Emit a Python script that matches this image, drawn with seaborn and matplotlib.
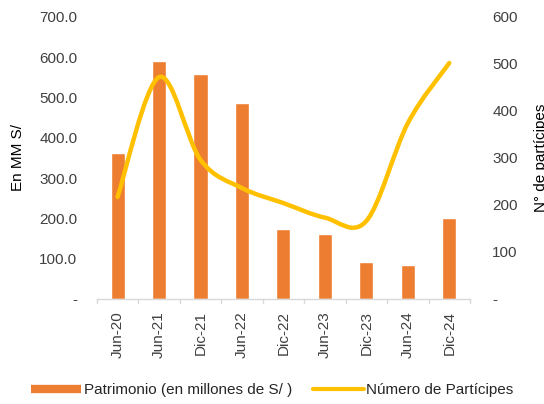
import numpy as np
import pandas as pd
import matplotlib
matplotlib.use("Agg")
import matplotlib.pyplot as plt
import seaborn as sns
from matplotlib.path import Path
from matplotlib.patches import PathPatch
from matplotlib.lines import Line2D
from matplotlib.ticker import FuncFormatter, FixedLocator

sns.set_theme(style="white")
plt.rcParams['font.family'] = ['Liberation Sans', 'DejaVu Sans']

# Data
periodos = ['Jun-20', 'Jun-21', 'Dic-21', 'Jun-22', 'Dic-22', 'Jun-23', 'Dic-23', 'Jun-24', 'Dic-24']
patrimonio = [362, 590, 558, 486, 174, 161, 92, 84, 201]
participes = [217, 472, 296, 236, 204, 173, 166, 374, 502]

naranja = '#ED7D31'
amarillo = '#FFC000'
gris_texto = '#404040'

df = pd.DataFrame({'Periodo': periodos, 'Patrimonio': patrimonio, 'Participes': participes})

fig = plt.figure(figsize=(5.44, 4.04), dpi=100)
ax = fig.add_axes([0.178, 0.26, 0.686, 0.698])

sns.barplot(data=df, x='Periodo', y='Patrimonio', color=naranja, width=0.34,
            saturation=1, ax=ax)
ax.set_xlim(-0.5, len(periodos) - 0.5)
ax.set_ylim(0, 700)
ax.yaxis.set_major_locator(FixedLocator(np.arange(0, 701, 100)))
ax.yaxis.set_major_formatter(FuncFormatter(lambda v, p: '-' if v == 0 else f'{v:.1f}'))
ax.set_xlabel('')
ax.set_ylabel('En MM S/', fontsize=11, color='black', labelpad=10)
ax.tick_params(axis='y', length=0, labelsize=11, labelcolor=gris_texto, pad=14)
ax.tick_params(axis='x', labelsize=11, labelcolor=gris_texto, rotation=90,
               length=0, pad=9)
for s in ['top', 'left', 'right']:
    ax.spines[s].set_visible(False)
ax.spines['bottom'].set_color('#D9D9D9')
ax.spines['bottom'].set_linewidth(1)

# category boundary ticks on x-axis
for b in np.arange(-0.5, len(periodos), 1.0):
    ax.plot([b, b], [0, -0.015], transform=ax.get_xaxis_transform(),
            color='#D9D9D9', lw=1, clip_on=False)

# secondary axis with smoothed line (Excel-style bezier smoothing)
ax2 = ax.twinx()
ax2.set_ylim(0, 600)
ax2.yaxis.set_major_locator(FixedLocator(np.arange(0, 601, 100)))
ax2.yaxis.set_major_formatter(FuncFormatter(lambda v, p: '-' if v == 0 else f'{v:.0f}'))
ax2.tick_params(axis='y', length=0, labelsize=11, labelcolor=gris_texto, pad=16)
ax2.set_ylabel('N° de partícipes', fontsize=11, color='black', labelpad=12)
for s in ['top', 'left', 'right', 'bottom']:
    ax2.spines[s].set_visible(False)

xs = np.arange(len(participes), dtype=float)
ys = np.array(participes, dtype=float)
verts = [(xs[0], ys[0])]
codes = [Path.MOVETO]
n = len(xs)
for i in range(n - 1):
    p0 = (xs[max(i - 1, 0)], ys[max(i - 1, 0)])
    p1 = (xs[i], ys[i])
    p2 = (xs[i + 1], ys[i + 1])
    p3 = (xs[min(i + 2, n - 1)], ys[min(i + 2, n - 1)])
    c1 = (p1[0] + (p2[0] - p0[0]) / 6, p1[1] + (p2[1] - p0[1]) / 6)
    c2 = (p2[0] - (p3[0] - p1[0]) / 6, p2[1] - (p3[1] - p1[1]) / 6)
    verts += [c1, c2, p2]
    codes += [Path.CURVE4] * 3
ax2.add_patch(PathPatch(Path(verts, codes), facecolor='none', edgecolor=amarillo,
                        lw=3.2, capstyle='round', joinstyle='round'))

handles = [Line2D([], [], color=naranja, lw=6, solid_capstyle='butt'),
           Line2D([], [], color=amarillo, lw=3, solid_capstyle='round')]
fig.legend(handles, ['Patrimonio (en millones de S/ )', 'Número de Partícipes'],
           loc='center', bbox_to_anchor=(0.5, 0.035), ncol=2, frameon=False,
           fontsize=11, handlelength=3.3, handletextpad=0.15, columnspacing=1.4,
           labelcolor='#262626')

fig.savefig('out.png', dpi=100, facecolor='white')
